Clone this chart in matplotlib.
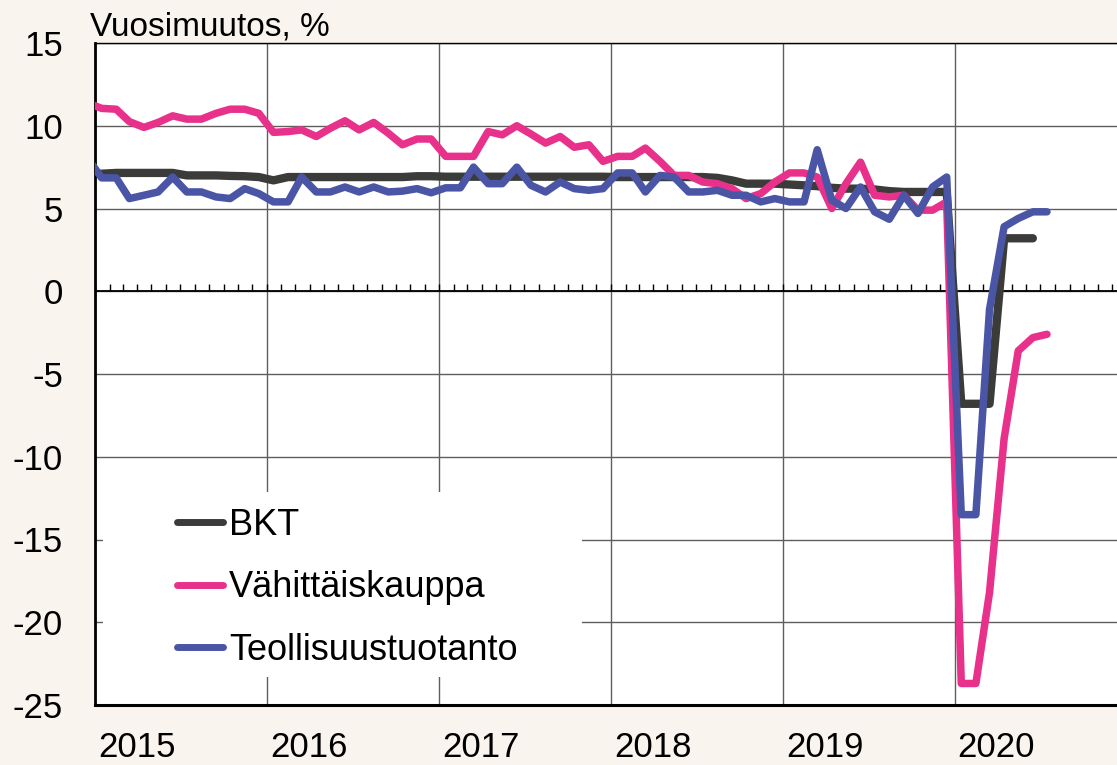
import numpy as np
import pandas as pd
import matplotlib
matplotlib.use("Agg")
import matplotlib.pyplot as plt
import matplotlib.dates as mdates
from matplotlib.patches import Rectangle
from matplotlib.transforms import ScaledTranslation

plt.rcParams["font.family"] = ["Liberation Sans", "DejaVu Sans"]
plt.rcParams["axes.unicode_minus"] = False

# monthly observations, Dec 2014 .. Jul 2020
start_month = "2014-12-01"
bkt = [7.1,
       7.1, 7.15, 7.15, 7.15, 7.15, 7.15, 7.0, 7.0, 7.0, 6.97, 6.95, 6.9,
       6.7, 6.9, 6.9, 6.9, 6.9, 6.9, 6.9, 6.9, 6.9, 6.9, 6.95, 6.95,
       6.92, 6.92, 6.92, 6.92, 6.92, 6.92, 6.92, 6.92, 6.92, 6.92, 6.92, 6.92,
       6.9, 6.9, 6.9, 6.9, 6.9, 6.9, 6.9, 6.85, 6.7, 6.5, 6.5, 6.5,
       6.45, 6.4, 6.35, 6.25, 6.2, 6.2, 6.15, 6.05, 6.0, 6.0, 6.0, 6.0,
       -6.8, -6.8, -6.8, 3.2, 3.2, 3.2, np.nan]
vahittaiskauppa = [11.4,
                   11.05, 11.0, 10.25, 9.9, 10.2, 10.6, 10.4, 10.4, 10.75, 11.0, 11.0, 10.75,
                   9.6, 9.65, 9.75, 9.35, 9.85, 10.3, 9.75, 10.2, 9.55, 8.85, 9.2, 9.2,
                   8.15, 8.15, 8.15, 9.65, 9.45, 10.0, 9.5, 8.95, 9.35, 8.7, 8.85, 7.85,
                   8.15, 8.15, 8.65, 7.85, 7.0, 7.0, 6.6, 6.5, 6.2, 5.6, 5.9, 6.6,
                   7.15, 7.15, 6.9, 5.0, 6.5, 7.8, 5.8, 5.7, 5.8, 4.9, 4.9, 5.4,
                   -23.7, -23.7, -18.2, -8.9, -3.6, -2.8, -2.6]
teollisuus = [8.1,
              6.85, 6.85, 5.6, 5.8, 6.0, 6.9, 6.0, 6.0, 5.7, 5.6, 6.2, 5.9,
              5.4, 5.4, 6.9, 6.0, 6.0, 6.3, 6.0, 6.3, 6.0, 6.05, 6.2, 5.95,
              6.25, 6.25, 7.5, 6.5, 6.5, 7.5, 6.4, 6.0, 6.6, 6.2, 6.1, 6.2,
              7.15, 7.15, 6.0, 7.0, 6.9, 6.0, 6.0, 6.1, 5.8, 5.8, 5.4, 5.6,
              5.4, 5.4, 8.55, 5.5, 5.0, 6.3, 4.8, 4.35, 5.8, 4.7, 6.3, 6.9,
              -13.5, -13.5, -1.1, 3.9, 4.4, 4.8, 4.8]
labels = ["BKT", "Vähittäiskauppa", "Teollisuustuotanto"]
colors = ["#3b3b39", "#e8318a", "#4a55a6"]
years = list(range(2015, 2021))
yticks = list(range(-25, 20, 5))

# points sit in the middle of each month
dates = pd.date_range(start_month, periods=len(bkt), freq="MS") + pd.Timedelta(days=14)

fig = plt.figure(figsize=(11.17, 7.65), dpi=100, facecolor="#f9f4ed")
ax = fig.add_axes([95 / 1117, 60 / 765, 1032 / 1117, 662 / 765])
ax.set_facecolor("white")

ax.set_xlim(pd.Timestamp("2015-01-01"), pd.Timestamp("2021-01-01"))
ax.set_ylim(-25, 15)
ax.set_yticks(yticks)
ax.set_yticklabels([str(v) for v in yticks])
ax.set_xticks([pd.Timestamp(f"{y}-01-01") for y in years])
ax.set_xticklabels([str(y) for y in years])
ax.tick_params(axis="both", length=0, labelsize=25)
ax.tick_params(axis="y", pad=23)
ax.tick_params(axis="x", pad=19)
for lab in ax.get_xticklabels():
    lab.set_horizontalalignment("left")
    lab.set_transform(lab.get_transform() + ScaledTranslation(3 / 100, 0, fig.dpi_scale_trans))

ax.grid(True, color="#5e5e5e", linewidth=1.0, zorder=0)
ax.set_axisbelow(True)
ax.axhline(0, color="black", linewidth=1.3, zorder=1)
month_starts = pd.date_range("2015-01-01", "2021-01-01", freq="MS")
ax.vlines(month_starts, 0, 0.45, color="black", linewidth=1.0, zorder=1)

ax.spines["right"].set_visible(False)
ax.spines["top"].set_linewidth(1.0)
ax.spines["left"].set_linewidth(2.0)
ax.spines["bottom"].set_linewidth(2.2)

# white box behind the legend hides the grid there
ax.add_patch(Rectangle((0.008, 0.042), 0.464, 0.28, transform=ax.transAxes,
                       facecolor="white", edgecolor="none", zorder=1.5))

series = [bkt, vahittaiskauppa, teollisuus]
widths = [6.0, 5.4, 5.4]
for vals, lab, col, lw, z in zip(series, labels, colors, widths, [2, 3, 4]):
    ax.plot(dates, vals, color=col, linewidth=lw, label=lab, zorder=z,
            solid_capstyle="round")

leg = ax.legend(loc="upper left", bbox_to_anchor=(0.079, 0.298), frameon=False,
                fontsize=26, handlelength=1.3, handletextpad=0.15,
                labelspacing=0.76, borderpad=0, borderaxespad=0)
for h in leg.get_lines():
    h.set_linewidth(5.0)

fig.text(90 / 1117, 1 - 35 / 765, "Vuosimuutos, %", fontsize=24, va="baseline")

fig.savefig("out.png", dpi=100, facecolor=fig.get_facecolor())
